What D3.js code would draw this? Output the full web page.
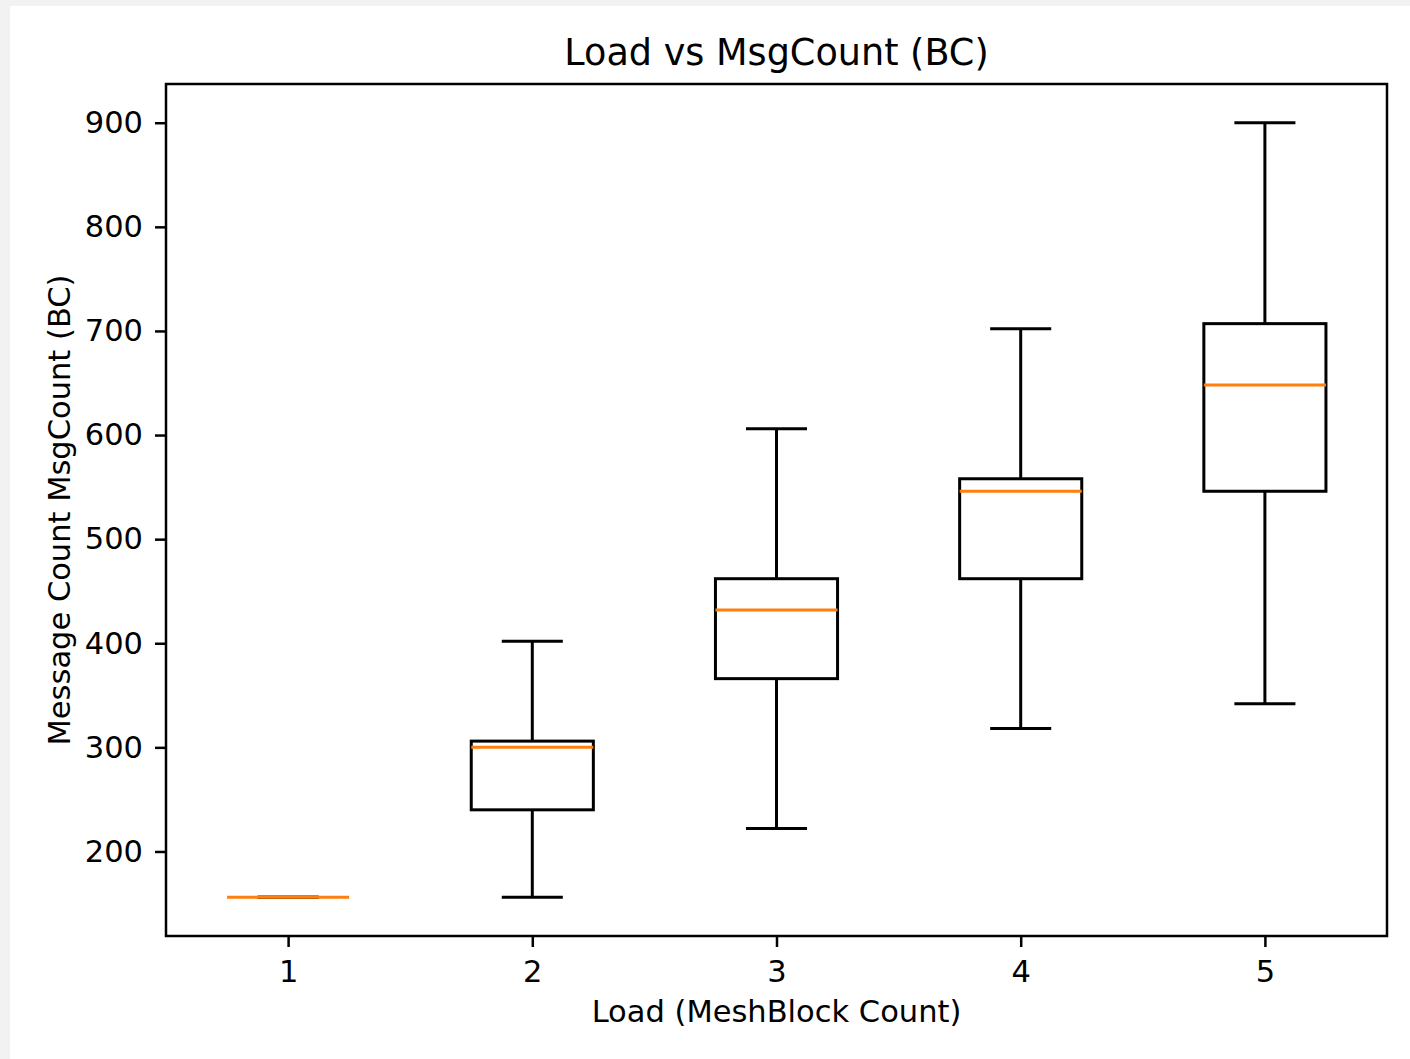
<!DOCTYPE html>
<html>
<head>
<meta charset="utf-8">
<script src="https://cdn.jsdelivr.net/npm/d3@7"></script>
<style>
  html, body { margin: 0; padding: 0; background: #f2f2f2; }
  svg { display: block; }
  text { font-family: "DejaVu Sans", sans-serif; fill: #000; }
</style>
</head>
<body>
<script>
// Load (MeshBlock count) categories and the box-plot statistics for each
const loads = [1, 2, 3, 4, 5];
const whiskerLow  = [156, 156, 222, 318, 342];
const quartile1   = [156, 240, 366, 462, 546];
const medians     = [156, 300, 432, 546, 648];
const quartile3   = [156, 306, 462, 558, 707];
const whiskerHigh = [156, 402, 606, 702, 900];
const yTicks = [200, 300, 400, 500, 600, 700, 800, 900];

const W = 1410, H = 1059;
const plot = { left: 166, top: 84, right: 1387, bottom: 936 };

const svg = d3.select("body").append("svg")
  .attr("width", W).attr("height", H);

// figure background (white panel inside a thin grey margin)
svg.append("rect").attr("x", 0).attr("y", 0).attr("width", W).attr("height", H).attr("fill", "#f2f2f2");
svg.append("rect").attr("x", 10).attr("y", 6).attr("width", W - 10).attr("height", H - 6).attr("fill", "#fff");

const x = d3.scaleLinear().domain([0.5, 5.5]).range([plot.left, plot.right]);
const yMin = d3.min(whiskerLow), yMax = d3.max(whiskerHigh);
const pad = (yMax - yMin) * 0.05;
const y = d3.scaleLinear().domain([yMin - pad, yMax + pad]).range([plot.bottom, plot.top]);

const boxHalf = 0.25, capHalf = 0.125;
const black = "#000", orange = "#ff7f0e", lw = 3;

const boxes = svg.append("g");
loads.forEach((d, i) => {
  const g = boxes.append("g");
  // whiskers
  g.append("line").attr("x1", x(d)).attr("x2", x(d))
    .attr("y1", y(quartile1[i])).attr("y2", y(whiskerLow[i]))
    .attr("stroke", black).attr("stroke-width", lw);
  g.append("line").attr("x1", x(d)).attr("x2", x(d))
    .attr("y1", y(quartile3[i])).attr("y2", y(whiskerHigh[i]))
    .attr("stroke", black).attr("stroke-width", lw);
  // caps
  [whiskerLow[i], whiskerHigh[i]].forEach(v => {
    g.append("line").attr("x1", x(d - capHalf)).attr("x2", x(d + capHalf))
      .attr("y1", y(v)).attr("y2", y(v))
      .attr("stroke", black).attr("stroke-width", lw);
  });
  // box
  g.append("rect")
    .attr("x", x(d - boxHalf)).attr("width", x(d + boxHalf) - x(d - boxHalf))
    .attr("y", y(quartile3[i])).attr("height", y(quartile1[i]) - y(quartile3[i]))
    .attr("fill", "none").attr("stroke", black).attr("stroke-width", lw);
  // median
  g.append("line").attr("x1", x(d - boxHalf)).attr("x2", x(d + boxHalf))
    .attr("y1", y(medians[i])).attr("y2", y(medians[i]))
    .attr("stroke", orange).attr("stroke-width", lw);
});

// axes
const fontSize = 30.5;
const xAxis = svg.append("g").attr("transform", `translate(0,${plot.bottom})`)
  .call(d3.axisBottom(x).tickValues(loads).tickFormat(d3.format("d")).tickSize(11).tickPadding(13));
const yAxis = svg.append("g").attr("transform", `translate(${plot.left},0)`)
  .call(d3.axisLeft(y).tickValues(yTicks).tickFormat(d3.format("d")).tickSize(11).tickPadding(12));
[xAxis, yAxis].forEach(a => {
  a.select(".domain").remove();
  a.selectAll(".tick line").attr("stroke", black).attr("stroke-width", 2.5);
  a.selectAll(".tick text").attr("font-size", fontSize).attr("font-family", "DejaVu Sans").attr("fill", black);
});

// plot frame
svg.append("rect")
  .attr("x", plot.left).attr("y", plot.top)
  .attr("width", plot.right - plot.left).attr("height", plot.bottom - plot.top)
  .attr("fill", "none").attr("stroke", black).attr("stroke-width", 2.5);

// titles
const cx = (plot.left + plot.right) / 2;
svg.append("text").attr("x", cx).attr("y", 65).attr("text-anchor", "middle")
  .attr("font-size", 36.6).text("Load vs MsgCount (BC)");
svg.append("text").attr("x", cx).attr("y", 1022).attr("text-anchor", "middle")
  .attr("font-size", fontSize).text("Load (MeshBlock Count)");
svg.append("text").attr("transform", `translate(70,${(plot.top + plot.bottom) / 2}) rotate(-90)`)
  .attr("text-anchor", "middle").attr("font-size", fontSize).text("Message Count MsgCount (BC)");
</script>
</body>
</html>
